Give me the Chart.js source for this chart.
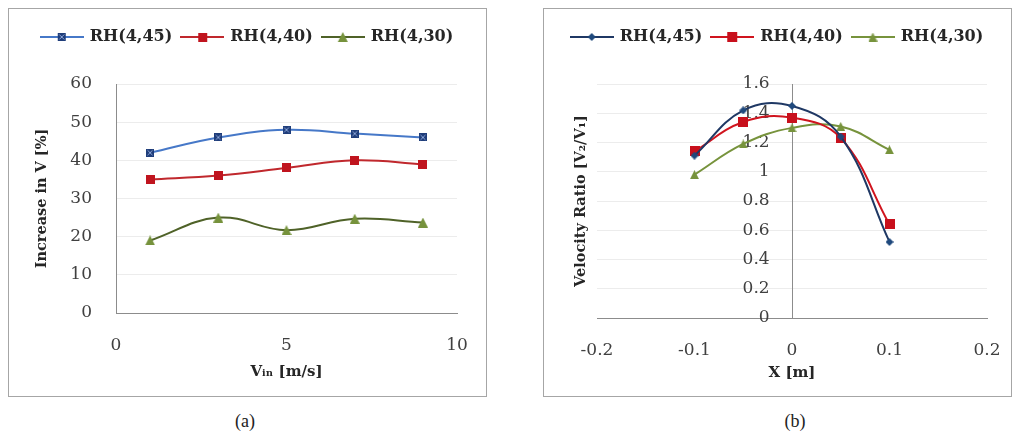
<!DOCTYPE html>
<html>
<head>
<meta charset="utf-8">
<script src="https://cdn.jsdelivr.net/npm/chart.js@4.4.1/dist/chart.umd.min.js"></script>
<style>
  html, body { margin: 0; padding: 0; background: #fff; }
  body { width: 1013px; height: 435px; position: relative; overflow: hidden; }
  .box { position: absolute; border: 1px solid #a6a6a6; }
  #boxA { left: 8px; top: 8px; width: 477px; height: 387px; }
  #boxB { left: 543px; top: 8px; width: 467px; height: 387px; }
  .cap { position: absolute; top: 410px; width: 40px; text-align: center;
         font: 18px "Liberation Serif", serif; line-height: 22px; color: #222; }
</style>
</head>
<body>
<div class="box" id="boxA"><canvas id="chartA" width="477" height="387"></canvas></div>
<div class="box" id="boxB"><canvas id="chartB" width="467" height="387"></canvas></div>
<div class="cap" style="left:225px">(a)</div>
<div class="cap" style="left:775px">(b)</div>
<script>
// (a) increase in velocity vs inlet speed
const vin = [1, 3, 5, 7, 9];
const incRH45 = [42, 46, 48, 47, 46];
const incRH40 = [35, 36, 38, 40, 39];
const incRH30 = [19, 25, 21.7, 24.7, 23.7];
const ticksAx = [0, 5, 10];
const ticksAy = [0, 10, 20, 30, 40, 50, 60];

// (b) velocity ratio across X
const posX = [-0.1, -0.05, 0, 0.05, 0.1];
const ratioRH45 = [1.11, 1.42, 1.45, 1.24, 0.52];
const ratioRH40 = [1.14, 1.34, 1.37, 1.23, 0.64];
const ratioRH30 = [0.98, 1.19, 1.30, 1.31, 1.15];
const ticksBx = [-0.2, -0.1, 0, 0.1, 0.2];
const ticksBy = [0, 0.2, 0.4, 0.6, 0.8, 1, 1.2, 1.4, 1.6];

const names = ["RH(4,45)", "RH(4,40)", "RH(4,30)"];

Chart.defaults.font.family = "'DejaVu Serif', serif";
Chart.defaults.color = "#404040";

// excel-like markers as small canvases
function marker(shape, fill, size) {
	const c = document.createElement("canvas");
	c.width = size;
	c.height = size;
	const g = c.getContext("2d");
	g.fillStyle = fill;
	if (shape === "rectX") {
		g.fillRect(0, 0, size, size);
		g.strokeStyle = "rgba(150,175,225,0.9)";
		g.lineWidth = 1;
		g.beginPath();
		g.moveTo(1.5, 1.5); g.lineTo(size - 1.5, size - 1.5);
		g.moveTo(size - 1.5, 1.5); g.lineTo(1.5, size - 1.5);
		g.stroke();
	} else if (shape === "rect") {
		g.fillRect(0, 0, size, size);
	} else if (shape === "triangle") {
		g.beginPath();
		g.moveTo(size / 2, 0);
		g.lineTo(size, size);
		g.lineTo(0, size);
		g.closePath();
		g.fill();
	} else if (shape === "diamond") {
		g.beginPath();
		g.moveTo(size / 2, 0);
		g.lineTo(size, size / 2);
		g.lineTo(size / 2, size);
		g.lineTo(0, size / 2);
		g.closePath();
		g.fill();
	}
	return c;
}

function legendIcon(color, mk) {
	const c = document.createElement("canvas");
	c.width = 44;
	c.height = 12;
	const g = c.getContext("2d");
	g.strokeStyle = color;
	g.lineWidth = 2;
	g.beginPath();
	g.moveTo(0, 6);
	g.lineTo(44, 6);
	g.stroke();
	g.drawImage(mk, (44 - mk.width) / 2, (12 - mk.height) / 2);
	return c;
}

// fixed legend height so the plot starts lower
const legendGap = {
	id: "legendGap",
	beforeLayout(chart, args, opts) {
		if (chart.legend && !chart.legend._gapDone) {
			const fit = chart.legend.fit;
			chart.legend.fit = function () {
				fit.call(this);
				this.height = opts.height;
			};
			chart.legend._gapDone = true;
		}
	},
};

const fixedTicks = (arr) => (scale) => {
	scale.ticks = arr.map((v) => ({ value: v }));
};

// empty axis used only to reserve room on the right
const spacer = (w) => ({
	position: "right",
	afterFit: (s) => { s.width = w; },
	grid: { display: false, drawTicks: false },
	border: { display: false },
	ticks: { display: false },
});

const linesA = ["#4678c8", "#c0282d", "#4f6228"];
const marksA = [
	marker("rectX", "#1f3d7a", 8),
	marker("rect", "#c0141e", 9),
	marker("triangle", "#76923c", 10),
];
const iconsA = linesA.map((c, i) => legendIcon(c, marksA[i]));

const linesB = ["#1f3864", "#d0141e", "#77933c"];
const marksB = [
	marker("diamond", "#1f497d", 8),
	marker("rect", "#c8101c", 10),
	marker("triangle", "#77933c", 9),
];
const iconsB = linesB.map((c, i) => legendIcon(c, marksB[i]));

function makeSets(xs, ys, lines, marks) {
	return ys.map((vals, i) => ({
		label: names[i],
		data: xs.map((x, j) => ({ x: x, y: vals[j] })),
		xAxisID: "x",
		yAxisID: "y",
		borderColor: lines[i],
		backgroundColor: lines[i],
		borderWidth: 2,
		tension: 0.4,
		pointStyle: marks[i],
		pointRadius: 5,
	}));
}

function legendOpts(icons) {
	return {
		position: "top",
		labels: {
			usePointStyle: true,
			pointStyleWidth: 40,
			padding: 10,
			color: "#262626",
			font: { size: 16, weight: "bold" },
			generateLabels(chart) {
				const items = Chart.defaults.plugins.legend.labels.generateLabels(chart);
				items.forEach((it, i) => {
					it.pointStyle = icons[i];
				});
				return items;
			},
		},
	};
}

const xGrid = { display: false, drawTicks: true, tickLength: 22, tickColor: "transparent" };

new Chart(document.getElementById("chartA"), {
	type: "line",
	data: { datasets: makeSets(vin, [incRH45, incRH40, incRH30], linesA, marksA) },
	options: {
		responsive: false,
		animation: false,
		layout: { padding: { top: 10, right: 0, bottom: 0, left: 0 } },
		plugins: {
			legend: legendOpts(iconsA),
			legendGap: { height: 65 },
			tooltip: { enabled: false },
		},
		scales: {
			x: {
				type: "linear",
				min: 0,
				max: 10,
				afterBuildTicks: fixedTicks(ticksAx),
				afterFit: (s) => { s.height = 83; },
				grid: xGrid,
				border: { color: "#8c8c8c" },
				ticks: { padding: 0, font: { size: 17 } },
				title: {
					display: true,
					text: "Vᵢₙ [m/s]",
					color: "#262626",
					font: { size: 15, weight: "bold" },
					padding: { top: 0, bottom: 15 },
				},
			},
			y: {
				min: 0,
				max: 60,
				afterBuildTicks: fixedTicks(ticksAy),
				afterFit: (s) => { s.width = 107; },
				grid: { color: "#ececec", drawTicks: false },
				border: { color: "#8c8c8c" },
				ticks: { padding: 24, font: { size: 17 } },
				title: {
					display: true,
					text: "Increase in V [%]",
					color: "#262626",
					font: { size: 14.5, weight: "bold" },
					padding: { top: 25, bottom: 0 },
				},
			},
			padR: spacer(29),
		},
	},
	plugins: [legendGap],
});

new Chart(document.getElementById("chartB"), {
	type: "line",
	data: { datasets: makeSets(posX, [ratioRH45, ratioRH40, ratioRH30], linesB, marksB) },
	options: {
		responsive: false,
		animation: false,
		layout: { padding: { top: 10, right: 0, bottom: 0, left: 0 } },
		plugins: {
			legend: legendOpts(iconsB),
			legendGap: { height: 65 },
			tooltip: { enabled: false },
		},
		scales: {
			x: {
				type: "linear",
				min: -0.2,
				max: 0.2,
				afterBuildTicks: fixedTicks(ticksBx),
				afterFit: (s) => { s.height = 78; },
				grid: xGrid,
				border: { color: "#8c8c8c" },
				ticks: { padding: 0, font: { size: 17 }, callback: (v) => String(+v.toFixed(2)) },
				title: {
					display: true,
					text: "X [m]",
					color: "#262626",
					font: { size: 15, weight: "bold" },
					padding: { top: 0, bottom: 14 },
				},
			},
			y: {
				position: { x: 0 },
				min: 0,
				max: 1.6,
				afterBuildTicks: fixedTicks(ticksBy),
				grid: { color: "#ececec", drawTicks: false },
				border: { color: "#8c8c8c" },
				// labels sit left of the axis at x = 0
				ticks: { padding: 0, font: { size: 17 }, callback: (v) => String(+v.toFixed(2)) + "\u2002\u2002 " },
			},
			yTitle: {
				position: "left",
				min: 0,
				max: 1.6,
				afterFit: (s) => { s.width = 53; },
				grid: { display: false, drawTicks: false },
				border: { display: false },
				ticks: { display: false },
				title: {
					display: true,
					text: "Velocity Ratio [V₂/V₁]",
					color: "#262626",
					font: { size: 14.5, weight: "bold" },
					padding: { top: 29, bottom: 0 },
				},
			},
			padR: spacer(24),
		},
	},
	plugins: [legendGap],
});
</script>
</body>
</html>
